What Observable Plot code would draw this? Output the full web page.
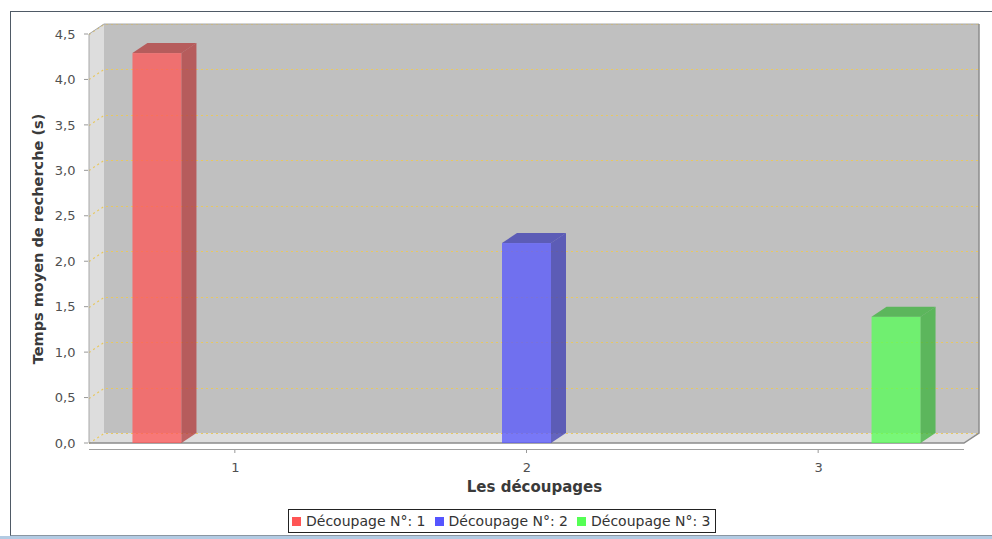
<!DOCTYPE html>
<html>
<head>
<meta charset="utf-8">
<script src="https://cdn.jsdelivr.net/npm/d3@7"></script>
<script src="https://cdn.jsdelivr.net/npm/@observablehq/plot@0.6"></script>
<style>
  html, body { margin: 0; padding: 0; background: #fff; }
  body { width: 992px; height: 539px; overflow: hidden; position: relative; font-family: "DejaVu Sans", sans-serif; }
  #frame { position: absolute; left: 10px; top: 11px; width: 982px; height: 523px;
           border-left: 1px solid #4f5a66; border-top: 1px solid #4f5a66; border-bottom: 1px solid #8a96a2; box-sizing: content-box; }
  #chrome { position: absolute; left: 0; top: 536px; width: 992px; height: 3px; background: #b3cbe3; }
  #chart { position: absolute; left: 0; top: 0; }
  #legend { position: absolute; left: 288px; top: 509px; height: 22px; border: 1px solid #222; background: #fff;
            display: flex; align-items: center; padding: 0 4px 0 3px; font-size: 14px; color: #333; white-space: nowrap; }
  .item { display: flex; align-items: center; margin-right: 9px; }
  .item:last-child { margin-right: 0; }
  .sw { width: 9px; height: 9px; margin-right: 5px; }
</style>
</head>
<body>
<div id="frame"></div>
<div id="chrome"></div>
<div id="chart"></div>
<div id="legend"></div>
<script>
// ---- data ----
const categories = ["1", "2", "3"];
const series = ["Découpage N°: 1", "Découpage N°: 2", "Découpage N°: 3"];
const values = [4.29, 2.20, 1.39];
const colors = ["#ff5555", "#5555ff", "#55ff55"];
const yTicks = [0, 0.5, 1, 1.5, 2, 2.5, 3, 3.5, 4, 4.5];
const yLabel = "Temps moyen de recherche (s)";
const xLabel = "Les découpages";

// ---- layout constants ----
const DX = 15, DY = 10;          // 3D depth offset
const SLOT = 0.267, HALF = 0.084; // series slot spacing / half bar width (category units)
const yMax = 4.5;

const rows = values.map((v, i) => ({
  category: categories[i], series: series[i], value: v,
  ci: i + 1, si: i, color: colors[i]
}));
const pos = d => d.ci + (d.si - 1) * SLOT;
const fmt = v => d3.format(".1f")(v).replace(".", ",");
const darker = c => { const r = d3.rgb(c); return d3.rgb(r.r * 0.7, r.g * 0.7, r.b * 0.7).formatHex(); };

function walls(index, scales) {
  const {x, y} = scales;
  const X0 = x(0.5), X1 = x(3.5), Y0 = y(0), YT = y(yMax);
  const g = d3.create("svg:g");
  g.append("rect").attr("x", X0 + DX).attr("y", YT - DY).attr("width", X1 - X0).attr("height", Y0 - YT).attr("fill", "#c0c0c0");
  g.append("path").attr("d", `M${X0},${Y0}L${X0 + DX},${Y0 - DY}L${X0 + DX},${YT - DY}L${X0},${YT}Z`).attr("fill", "#dddddd");
  g.append("path").attr("d", `M${X0},${Y0}L${X1},${Y0}L${X1 + DX},${Y0 - DY}L${X0 + DX},${Y0 - DY}Z`).attr("fill", "#dddddd");
  for (const t of yTicks) {
    const yy = Math.round(y(t)) + 0.5;
    g.append("path").attr("d", `M${X0},${yy}L${X0 + DX},${yy - DY}L${X1 + DX},${yy - DY}`)
      .attr("fill", "none").attr("stroke", "#e8c860").attr("stroke-width", 1.2).attr("stroke-dasharray", "2,3");
  }
  g.append("path").attr("d", `M${X0},${Y0}L${X0},${YT}L${X0 + DX},${YT - DY}L${X1 + DX},${YT - DY}`)
    .attr("fill", "none").attr("stroke", "#a8a8a8").attr("stroke-width", 1);
  g.append("path").attr("d", `M${X1 + DX},${YT - DY}L${X1 + DX},${Y0 - DY}L${X1},${Y0}L${X0},${Y0}`)
    .attr("fill", "none").attr("stroke", "#8c8c8c").attr("stroke-width", 1.5);
  g.append("line").attr("x1", X0).attr("x2", X1).attr("y1", Y0 + 6.5).attr("y2", Y0 + 6.5).attr("stroke", "#a0a0a0");
  for (const t of yTicks) {
    g.append("line").attr("x1", X0 - 5).attr("x2", X0 - 1).attr("y1", y(t)).attr("y2", y(t)).attr("stroke", "#999");
  }
  for (let i = 0; i < categories.length; i++) {
    const cx = x(i + 1);
    g.append("line").attr("x1", cx).attr("x2", cx).attr("y1", Y0 + 7).attr("y2", Y0 + 10).attr("stroke", "#999");
  }
  return g.node();
}

function barFaces(index, scales) {
  const {x, y} = scales;
  const Y0 = y(0);
  const g = d3.create("svg:g");
  for (const d of rows) {
    const x1 = x(pos(d) - HALF), x2 = x(pos(d) + HALF), yv = y(d.value);
    const dk = darker(d.color);
    g.append("path").attr("d", `M${x2},${Y0}L${x2 + DX},${Y0 - DY}L${x2 + DX},${yv - DY}L${x2},${yv}Z`)
      .attr("fill", dk).attr("fill-opacity", 0.75);
    g.append("path").attr("d", `M${x1},${yv}L${x1 + DX},${yv - DY}L${x2 + DX},${yv - DY}L${x2},${yv}Z`)
      .attr("fill", dk).attr("fill-opacity", 0.75);
  }
  return g.node();
}

const chart = Plot.plot({
  width: 992, height: 505,
  marginLeft: 89, marginRight: 28, marginTop: 34, marginBottom: 62,
  x: {domain: [0.5, 3.5], axis: null},
  y: {domain: [0, yMax], axis: null},
  color: {domain: series, range: colors},
  style: {background: "transparent", fontFamily: "'DejaVu Sans', sans-serif", overflow: "visible"},
  marks: [
    walls,
    Plot.rect(rows, {x1: d => pos(d) - HALF, x2: d => pos(d) + HALF, y1: 0, y2: "value", fill: "series", fillOpacity: 0.75}),
    barFaces,
    Plot.text(yTicks, {x: 0.5, y: d => d, text: fmt, textAnchor: "end", dx: -14, fontSize: 13, fill: "#505050"}),
    Plot.text(rows, {x: "ci", y: 0, text: "category", dy: 24, fontSize: 13, fill: "#505050"}),
    Plot.text([yLabel], {frameAnchor: "left", text: d => d, textAnchor: "middle", rotate: -90, dx: -51, fontSize: 14.5, fontWeight: "bold", fill: "#3a3a3a"}),
    Plot.text([xLabel], {frameAnchor: "bottom", text: d => d, textAnchor: "middle", dx: 7.5, dy: 48, fontSize: 15, fontWeight: "bold", fill: "#3a3a3a"})
  ]
});
document.getElementById("chart").appendChild(chart);

const legend = d3.select("#legend");
series.forEach((s, i) => {
  const it = legend.append("div").attr("class", "item");
  it.append("div").attr("class", "sw").style("background", colors[i]);
  it.append("span").text(s);
});
</script>
</body>
</html>
